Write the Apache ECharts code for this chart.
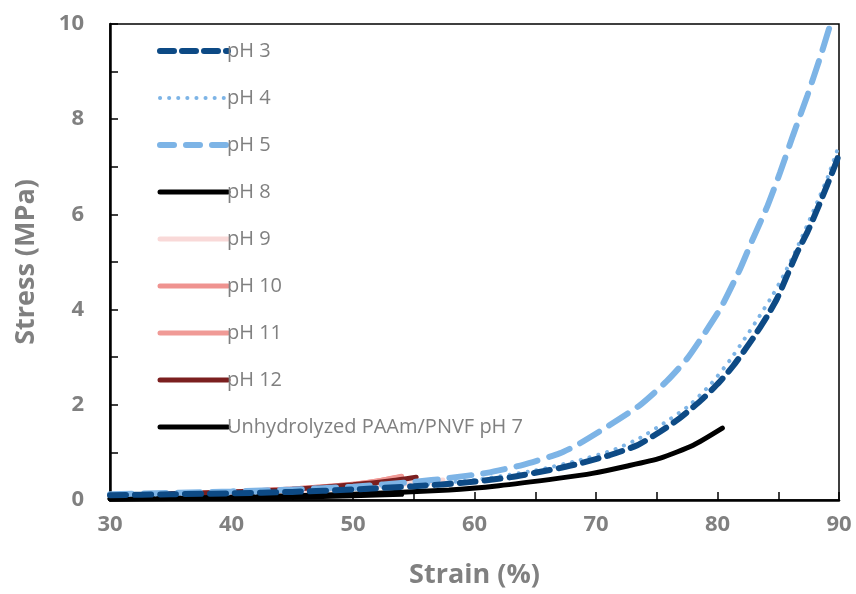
<!DOCTYPE html>
<html>
<head>
<meta charset="utf-8">
<script src="https://cdn.jsdelivr.net/npm/echarts@6/dist/echarts.min.js"></script>
<style>
  html, body { margin: 0; padding: 0; background: #fff; }
  #chart { width: 856px; height: 594px; }
</style>
</head>
<body>
<div id="chart"></div>
<script>
// Stress-strain curves, [strain %, stress MPa]
const ph3 = [[30,0.10],[35,0.12],[40,0.14],[45,0.17],[50,0.22],[55,0.29],[59,0.36],[63,0.48],[67,0.67],[68.7,0.77],[71.1,0.94],[73.4,1.15],[75.3,1.44],[76.9,1.72],[78.8,2.13],[80.2,2.49],[81.3,2.82],[82.9,3.39],[84.1,3.87],[84.9,4.23],[85.7,4.70],[86.55,5.20],[87.4,5.63],[88.2,6.10],[89,6.60],[89.85,7.15],[90,7.3]];
const ph4 = [[30,0.10],[35,0.12],[40,0.14],[45,0.18],[50,0.23],[55,0.31],[60,0.42],[65,0.62],[68.7,0.84],[71.4,1.05],[73.6,1.30],[75.8,1.65],[77.7,1.99],[79.5,2.45],[81,2.93],[82.4,3.45],[83.3,3.80],[84.6,4.33],[85.4,4.70],[86.5,5.27],[87.5,5.84],[88.45,6.40],[89.1,6.80],[90,7.45]];
const ph5 = [[30,0.12],[35,0.15],[40,0.18],[45,0.22],[50,0.28],[55,0.38],[57.9,0.46],[61,0.57],[64,0.74],[67,0.98],[68.4,1.15],[71.1,1.57],[73.6,1.99],[75.8,2.49],[77.5,2.97],[78.8,3.45],[80.3,4.05],[81.85,4.85],[82.9,5.48],[84.1,6.17],[85.15,6.88],[86.2,7.65],[87.4,8.50],[88.45,9.30],[89.3,10.0]];
const ph8 = [[30,0.02],[35,0.03],[40,0.04],[45,0.06],[50,0.09],[54,0.12]];
const ph9 = [[30,0.08],[35,0.10],[40,0.13],[45,0.18],[50,0.25],[55,0.35],[57.4,0.42]];
const ph10 = [[30,0.10],[35,0.13],[40,0.17],[45,0.23],[50,0.33],[52,0.40],[54,0.50]];
const ph11 = [[30,0.10],[35,0.13],[40,0.17],[45,0.23],[50,0.33],[52,0.40],[54,0.49]];
const ph12 = [[30,0.10],[35,0.13],[40,0.17],[44,0.21],[47,0.26],[50,0.32],[53,0.40],[55.2,0.48]];
const unhydrolyzed = [[30,0.02],[40,0.06],[50,0.12],[57.9,0.21],[62,0.30],[67,0.46],[69.7,0.56],[72.5,0.71],[75.3,0.88],[78,1.15],[80.4,1.51]];

const xTicks = { min: 30, max: 90, interval: 10 };
const yTicks = { min: 0, max: 10, interval: 2 };

const grey = "#808080";
const font = "'Open Sans', 'DejaVu Sans', sans-serif";

const styles = {
  "pH 3": { color: "#0D4A85", width: 6, type: [16, 9] },
  "pH 4": { color: "#7DB4E6", width: 4, type: [0.1, 9] },
  "pH 5": { color: "#7DB4E6", width: 6, type: [22, 12] },
  "pH 8": { color: "#000000", width: 5, type: "solid" },
  "pH 9": { color: "#F9D9D8", width: 5, type: "solid" },
  "pH 10": { color: "#EF9390", width: 5, type: "solid" },
  "pH 11": { color: "#F09A96", width: 5, type: "solid" },
  "pH 12": { color: "#7B1F1F", width: 5, type: "solid" },
  "Unhydrolyzed PAAm/PNVF pH 7": { color: "#000000", width: 5, type: "solid" },
};
const legendDash = { "pH 3": [14, 8], "pH 4": [0.1, 9], "pH 5": [14, 12] };

function curve(name, data) {
  const s = styles[name];
  return {
    name,
    type: "line",
    data,
    symbol: "none",
    smooth: 0.2,
    lineStyle: { color: s.color, width: s.width, type: s.type, cap: "round" },
    itemStyle: { color: s.color },
  };
}

const chart = echarts.init(document.getElementById("chart"));

chart.setOption({
  backgroundColor: "#fff",
  animation: false,
  grid: {
    left: 110, right: 17, top: 24, bottom: 92,
    show: true, borderColor: "#000", borderWidth: 1.5,
  },
  legend: {
    orient: "vertical",
    left: 152,
    top: 36,
    itemWidth: 68,
    itemHeight: 14,
    itemGap: 27,
    textStyle: { color: grey, fontSize: 20, fontFamily: font, padding: [0, 0, 0, -6] },
    data: Object.keys(styles).map((name) => ({
      name,
      itemStyle: { opacity: 0 },
      lineStyle: {
        color: styles[name].color,
        width: styles[name].width,
        type: legendDash[name] || "solid",
        cap: "round",
      },
    })),
  },
  xAxis: {
    type: "value",
    ...xTicks,
    name: "Strain (%)",
    nameLocation: "middle",
    nameGap: 62,
    nameTextStyle: { color: grey, fontSize: 27, fontWeight: "bold", fontFamily: font },
    axisLine: { lineStyle: { color: "#000", width: 2.5 } },
    axisTick: { inside: true, length: 8, lineStyle: { color: "#000", width: 1.5 } },
    minorTick: { show: true, splitNumber: 2, length: 8, lineStyle: { color: "#000", width: 1.5 } },
    axisLabel: { color: grey, fontSize: 22, fontWeight: "bold", fontFamily: font, margin: 14 },
    splitLine: { show: false },
  },
  yAxis: {
    type: "value",
    ...yTicks,
    name: "Stress (MPa)",
    nameLocation: "middle",
    nameGap: 70,
    nameTextStyle: { color: grey, fontSize: 27, fontWeight: "bold", fontFamily: font },
    axisLine: { lineStyle: { color: "#000", width: 2.5 } },
    axisTick: { inside: true, length: 8, lineStyle: { color: "#000", width: 1.5 } },
    minorTick: { show: true, splitNumber: 2, length: 8, lineStyle: { color: "#000", width: 1.5 } },
    axisLabel: { color: grey, fontSize: 22, fontWeight: "bold", fontFamily: font, margin: 26 },
    splitLine: { show: false },
  },
  series: [
    curve("pH 9", ph9),
    curve("pH 10", ph10),
    curve("pH 11", ph11),
    curve("pH 12", ph12),
    curve("pH 8", ph8),
    curve("Unhydrolyzed PAAm/PNVF pH 7", unhydrolyzed),
    curve("pH 5", ph5),
    curve("pH 4", ph4),
    curve("pH 3", ph3),
  ],
});

window.addEventListener("resize", () => chart.resize());
</script>
</body>
</html>
